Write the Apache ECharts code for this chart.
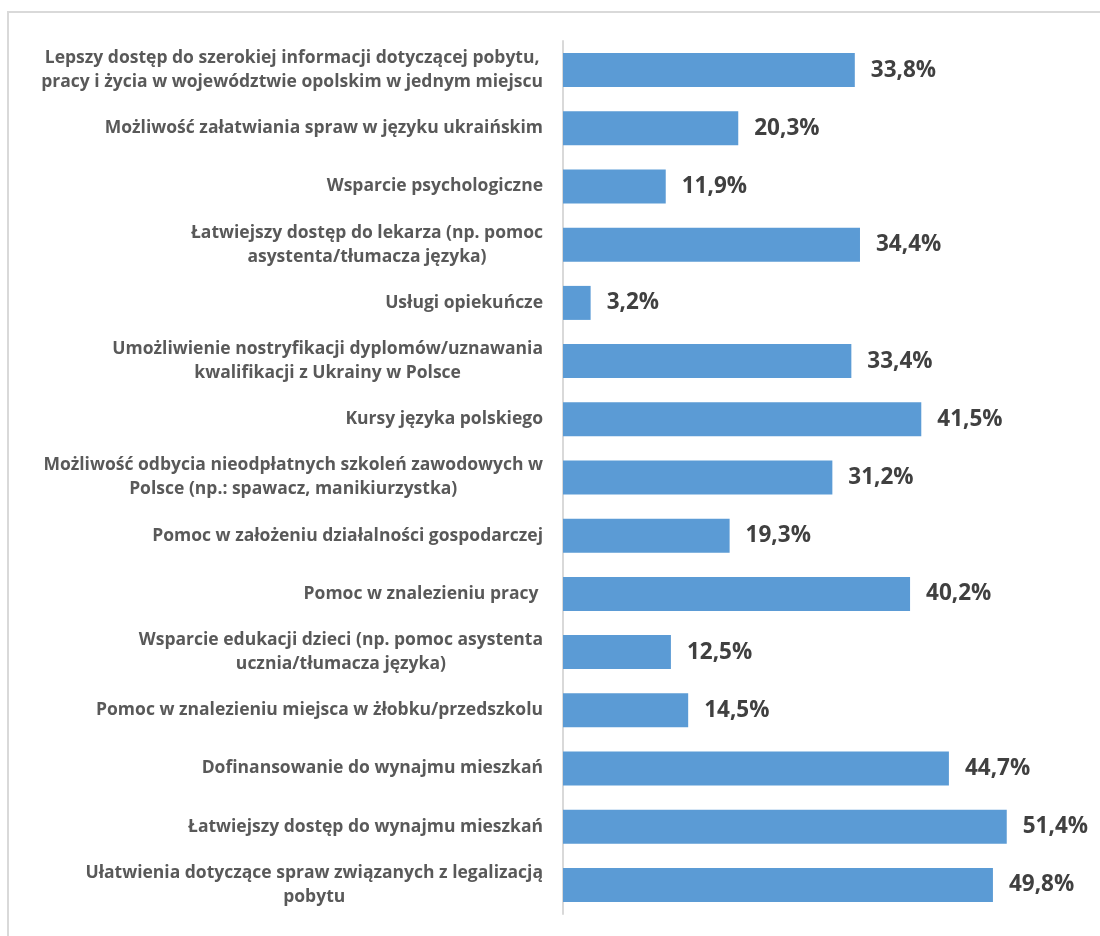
<!DOCTYPE html>
<html>
<head>
<meta charset="utf-8">
<script src="https://cdn.jsdelivr.net/npm/echarts@6/dist/echarts.min.js"></script>
<style>
html,body{margin:0;padding:0;background:#fff;}
#frame{position:absolute;left:7px;top:11px;width:1200px;height:1000px;border:2px solid #d9d9d9;box-sizing:border-box;}
#chart{position:absolute;left:0;top:0;width:1100px;height:936px;}
</style>
</head>
<body>
<div id="frame"></div>
<div id="chart"></div>
<script>
const categories = [
  "Lepszy dostęp do szerokiej informacji dotyczącej pobytu,\npracy i życia w województwie opolskim w jednym miejscu",
  "Możliwość załatwiania spraw w języku ukraińskim",
  "Wsparcie psychologiczne",
  "Łatwiejszy dostęp do lekarza (np. pomoc\nasystenta/tłumacza języka)",
  "Usługi opiekuńcze",
  "Umożliwienie nostryfikacji dyplomów/uznawania\nkwalifikacji z Ukrainy w Polsce",
  "Kursy języka polskiego",
  "Możliwość odbycia nieodpłatnych szkoleń zawodowych w\nPolsce (np.: spawacz, manikiurzystka)",
  "Pomoc w założeniu działalności gospodarczej",
  "Pomoc w znalezieniu pracy ",
  "Wsparcie edukacji dzieci (np. pomoc asystenta\nucznia/tłumacza języka)",
  "Pomoc w znalezieniu miejsca w żłobku/przedszkolu",
  "Dofinansowanie do wynajmu mieszkań",
  "Łatwiejszy dostęp do wynajmu mieszkań",
  "Ułatwienia dotyczące spraw związanych z legalizacją\npobytu"
];
const values = [33.8, 20.3, 11.9, 34.4, 3.2, 33.4, 41.5, 31.2, 19.3, 40.2, 12.5, 14.5, 44.7, 51.4, 49.8];

const chart = echarts.init(document.getElementById('chart'), null, {renderer: 'canvas'});
chart.setOption({
  animation: false,
  backgroundColor: 'transparent',
  grid: {left: 563, right: 19, top: 41, bottom: 22, containLabel: false},
  xAxis: {
    type: 'value', min: 0, max: 60, show: false
  },
  yAxis: {
    type: 'category',
    data: categories,
    inverse: true,
    axisLine: {show: true, lineStyle: {color: '#d9d9d9', width: 2}},
    axisTick: {show: false},
    splitLine: {show: false},
    axisLabel: {
      margin: 20,
      align: 'right',
      formatter: function (v) {
        return v.split('\n').map(function (l) { return '{c|' + l + '}'; }).join('\n');
      },
      rich: {
        c: {
          align: 'center',
          fontFamily: 'Open Sans',
          fontWeight: 'bold',
          fontSize: 17.5,
          lineHeight: 24,
          color: '#595959'
        }
      }
    }
  },
  series: [{
    type: 'bar',
    data: values,
    barWidth: 34,
    itemStyle: {color: '#5b9bd5'},
    label: {
      show: true,
      position: 'right',
      distance: 16,
      formatter: function (p) { return p.value.toFixed(1).replace('.', ',') + '%'; },
      fontFamily: 'Open Sans',
      fontWeight: 'bold',
      fontSize: 22.5,
      color: '#404040'
    }
  }]
});
</script>
</body>
</html>
